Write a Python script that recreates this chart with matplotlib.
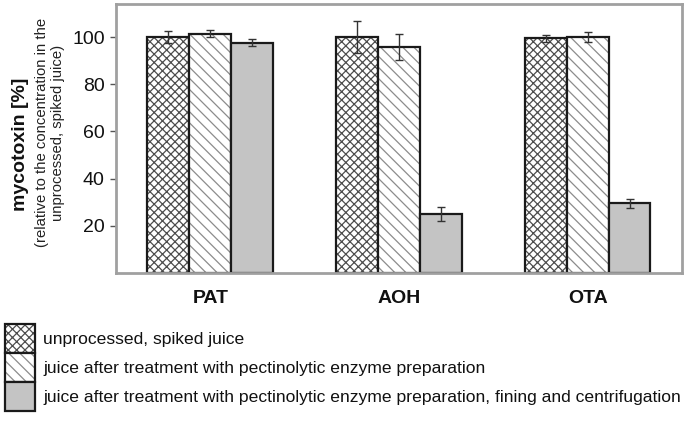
import matplotlib.pyplot as plt
import matplotlib.patches as mpatches
import numpy as np

plt.rcParams['font.family'] = ['Liberation Sans', 'DejaVu Sans']
plt.rcParams['hatch.linewidth'] = 0.9

# data
toxins = ['PAT', 'AOH', 'OTA']
series = ['unprocessed, spiked juice',
          'juice after treatment with pectinolytic enzyme preparation',
          'juice after treatment with pectinolytic enzyme preparation, fining and centrifugation']
unprocessed = [100.0, 100.0, 99.5]
unprocessed_err = [2.5, 6.7, 1.5]
enzyme = [101.5, 95.8, 100.0]
enzyme_err = [1.5, 5.7, 2.0]
fining = [97.5, 25.0, 29.5]
fining_err = [1.5, 3.0, 2.0]

fig = plt.figure(figsize=(6.85, 4.23), dpi=100)
ax = fig.add_axes([0.1693, 0.3546, 0.8263, 0.6359])

x = np.arange(len(toxins))
w = 0.222
edge = '#1a1a1a'
cross = 'xxxx'
diag = '\\\\\\'
cross_col = (0.3, 0.3, 0.3, 1)
diag_col = (0.55, 0.55, 0.55, 1)

b1 = ax.bar(x - w, unprocessed, w, color='white', edgecolor=edge, linewidth=1.6, hatch=cross)
b2 = ax.bar(x, enzyme, w, color='white', edgecolor=edge, linewidth=1.6, hatch=diag)
b3 = ax.bar(x + w, fining, w, color='#c4c4c4', edgecolor=edge, linewidth=1.6)
# hatch colours
for b in b1:
    b._hatch_color = cross_col
for b in b2:
    b._hatch_color = diag_col

for xs, v, e in [(x - w, unprocessed, unprocessed_err), (x, enzyme, enzyme_err), (x + w, fining, fining_err)]:
    ax.errorbar(xs, v, yerr=e, fmt='none', ecolor='#333333', elinewidth=1, capsize=3, capthick=1)

ax.set_xlim(-0.5, 2.5)
ax.set_ylim(0, 114)
ax.set_yticks([20, 40, 60, 80, 100])
ax.set_xticks(x)
ax.set_xticklabels(toxins, fontsize=14, fontweight='bold', color='#111111')
ax.tick_params(axis='x', length=0, pad=12)
ax.tick_params(axis='y', labelsize=14, length=4, width=1, color='#555555', pad=4,
               labelcolor='#111111')
for s in ax.spines.values():
    s.set_color('#a0a0a0')
    s.set_linewidth(2)

fig.text(0.03, 0.66, 'mycotoxin [%]', rotation=90, fontsize=14, fontweight='bold',
         ha='center', va='center', color='#111111')
fig.text(0.073, 0.686, '(relative to the concentration in the\nunprocessed, spiked juice)',
         rotation=90, fontsize=10.7, ha='center', va='center', color='#222222', linespacing=1.2)

handles = [
    mpatches.Patch(facecolor='white', edgecolor=edge, hatch=cross, linewidth=1.6),
    mpatches.Patch(facecolor='white', edgecolor=edge, hatch=diag, linewidth=1.6),
    mpatches.Patch(facecolor='#c4c4c4', edgecolor=edge, linewidth=1.6),
]
leg = fig.legend(handles, series, loc='upper left', bbox_to_anchor=(0.0, 0.245),
                 frameon=False, fontsize=12.6, handlelength=1.7, handleheight=2.16,
                 labelspacing=0.0, handletextpad=0.5, borderaxespad=0, borderpad=0.28)
leg.legend_handles[0]._hatch_color = cross_col
leg.legend_handles[1]._hatch_color = diag_col
for t in leg.get_texts():
    t.set_color('#111111')

fig.savefig('out.png', dpi=100)
